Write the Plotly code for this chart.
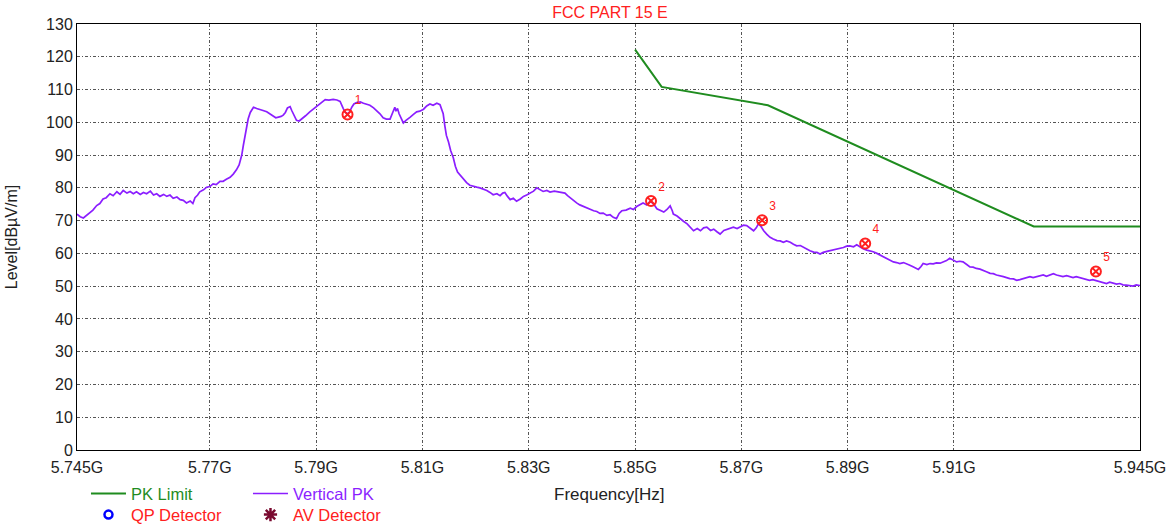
import plotly.graph_objects as go

# ---------------- data ----------------
limit_freq_ghz = [5.850, 5.855, 5.875, 5.925, 5.945]
limit_level = [122.2, 110.8, 105.2, 68.2, 68.2]

trace_freq_mhz = [
    5745.0, 5745.6, 5746.2, 5746.8, 5747.4, 5748.0, 5748.7, 5749.3, 5749.9, 5750.5,
    5751.2, 5751.8, 5752.5, 5753.1, 5753.7, 5754.4, 5755.0, 5755.6, 5756.2, 5756.9,
    5757.5, 5758.1, 5758.8, 5759.4, 5760.0, 5760.6, 5761.3, 5761.9, 5762.5, 5763.1,
    5763.8, 5764.4, 5765.0, 5765.6, 5766.3, 5766.8, 5767.2, 5767.7, 5768.1, 5768.8,
    5769.4, 5770.0, 5770.6, 5771.2, 5771.9, 5772.5, 5773.1, 5773.8, 5774.4, 5775.0,
    5775.5, 5776.0, 5776.3, 5776.6, 5776.9, 5777.2, 5777.6, 5778.2, 5778.8, 5779.4,
    5780.0, 5780.7, 5781.3, 5781.9, 5782.4, 5782.9, 5783.4, 5783.8, 5784.2, 5784.6,
    5785.1, 5785.4, 5785.6, 5786.0, 5786.3, 5786.8, 5787.3, 5788.0, 5788.8, 5789.4,
    5790.1, 5790.9, 5791.7, 5792.4, 5793.2, 5793.9, 5794.5, 5795.1, 5795.5, 5795.9,
    5796.3, 5796.7, 5797.1, 5797.6, 5798.3, 5798.9, 5799.5, 5800.1, 5800.8, 5801.4,
    5802.0, 5802.6, 5803.2, 5803.9, 5804.2, 5804.5, 5804.8, 5805.0, 5805.3, 5805.6,
    5806.0, 5806.4, 5806.9, 5807.3, 5807.7, 5808.3, 5808.9, 5809.5, 5810.2, 5810.8,
    5811.4, 5812.0, 5812.7, 5813.3, 5813.6, 5813.9, 5814.2, 5814.5, 5814.9, 5815.3,
    5815.8, 5816.2, 5816.6, 5817.1, 5817.7, 5818.3, 5818.9, 5819.6, 5820.2, 5820.8,
    5821.5, 5822.1, 5822.7, 5823.3, 5824.0, 5824.6, 5825.1, 5825.5, 5826.0, 5826.5,
    5827.1, 5827.7, 5828.4, 5829.0, 5829.6, 5830.3, 5830.9, 5831.5, 5832.1, 5832.7,
    5833.4, 5834.0, 5834.8, 5835.6, 5836.2, 5836.8, 5837.3, 5837.8, 5838.4, 5839.0,
    5839.6, 5840.3, 5840.9, 5841.5, 5842.2, 5842.8, 5843.4, 5844.0, 5844.7, 5845.3,
    5845.9, 5846.5, 5847.0, 5847.5, 5848.3, 5849.1, 5849.7, 5850.3, 5850.9, 5851.5,
    5852.2, 5852.8, 5853.1, 5853.6, 5854.1, 5854.7, 5855.4, 5856.0, 5856.6, 5857.0,
    5857.2, 5857.9, 5858.5, 5859.1, 5859.8, 5860.4, 5861.0, 5861.7, 5862.3, 5862.9,
    5863.5, 5864.2, 5864.8, 5865.4, 5866.0, 5866.7, 5867.3, 5867.9, 5868.5, 5869.2,
    5869.8, 5870.4, 5871.0, 5871.7, 5872.3, 5872.8, 5873.2, 5873.7, 5874.2, 5874.8,
    5875.4, 5876.0, 5876.7, 5877.3, 5877.9, 5878.5, 5879.2, 5879.8, 5880.4, 5881.1,
    5881.7, 5882.3, 5882.9, 5883.6, 5884.2, 5884.8, 5885.4, 5886.1, 5886.7, 5887.3,
    5887.9, 5888.6, 5889.2, 5889.8, 5890.4, 5891.1, 5891.7, 5892.3, 5892.9, 5893.6,
    5894.2, 5894.8, 5895.5, 5896.1, 5896.7, 5897.3, 5898.0, 5898.6, 5899.2, 5899.8,
    5900.5, 5901.1, 5901.7, 5902.3, 5902.8, 5903.3, 5903.8, 5904.2, 5904.9, 5905.5,
    5906.1, 5906.7, 5907.4, 5908.0, 5908.6, 5909.2, 5909.9, 5910.5, 5911.1, 5911.7,
    5912.4, 5913.0, 5913.6, 5914.2, 5914.9, 5915.5, 5916.1, 5916.8, 5917.4, 5918.0,
    5918.7, 5919.3, 5919.9, 5920.5, 5921.2, 5921.8, 5922.4, 5923.0, 5923.7, 5924.3,
    5924.9, 5925.5, 5926.2, 5926.8, 5927.4, 5928.0, 5928.7, 5929.3, 5929.9, 5930.5,
    5931.2, 5931.8, 5932.4, 5933.0, 5933.7, 5934.3, 5934.9, 5935.5, 5936.1, 5936.5,
    5937.0, 5937.4, 5938.1, 5938.7, 5939.3, 5939.9, 5940.6, 5941.2, 5941.8, 5942.4,
    5943.1, 5943.7, 5944.3, 5945.0,
]
trace_level = [
    72.0, 71.2, 70.8, 71.6, 72.6, 73.2, 74.6, 75.2, 76.6, 77.0,
    78.2, 77.6, 78.8, 78.0, 79.2, 78.4, 78.9, 78.2, 78.8, 78.0,
    78.6, 78.2, 79.0, 77.8, 78.2, 77.4, 78.0, 77.4, 77.8, 76.8,
    77.2, 76.4, 76.2, 75.4, 76.0, 75.2, 77.0, 77.8, 78.8, 79.4,
    80.2, 80.4, 81.2, 81.0, 82.0, 82.0, 82.6, 83.2, 84.2, 85.5,
    87.0, 90.0, 93.0, 96.0, 98.8, 101.0, 103.0, 104.6, 104.2, 103.8,
    103.6, 103.2, 102.6, 102.0, 101.4, 101.6, 101.8, 102.2, 103.0, 104.4,
    104.8, 103.6, 103.0, 101.4, 100.6, 100.4, 101.0, 102.0, 103.2, 104.0,
    105.0, 106.0, 106.9, 106.8, 107.0, 106.8, 106.4, 104.2, 103.0, 102.6,
    103.2, 104.6, 105.6, 106.0, 106.2, 105.8, 105.6, 105.2, 104.4, 103.6,
    102.6, 101.4, 101.0, 101.0, 102.4, 103.8, 104.6, 103.4, 104.2, 102.6,
    101.0, 99.8, 100.6, 101.0, 101.6, 102.4, 103.2, 103.4, 104.0, 105.0,
    105.6, 105.2, 105.8, 105.4, 104.0, 102.6, 99.0, 96.0, 94.0, 91.4,
    89.2, 86.5, 84.8, 83.8, 82.6, 81.6, 80.8, 80.6, 80.2, 80.0,
    79.6, 79.2, 78.6, 77.9, 78.2, 77.6, 78.4, 78.6, 77.4, 76.4,
    76.8, 75.9, 76.6, 77.4, 77.8, 78.4, 79.0, 80.0, 79.4, 78.9,
    79.2, 78.7, 79.0, 78.8, 78.6, 78.4, 77.6, 76.9, 76.2, 75.4,
    74.8, 74.3, 73.8, 73.3, 73.0, 72.8, 72.2, 72.3, 71.6, 71.8,
    71.0, 70.6, 72.2, 73.0, 73.2, 73.8, 73.4, 74.3, 74.8, 75.4,
    74.8, 75.8, 75.6, 74.8, 73.6, 73.2, 72.6, 73.4, 74.5, 73.0,
    72.0, 71.4, 70.5, 69.8, 69.0, 67.8, 66.9, 67.6, 66.9, 67.8,
    68.0, 67.0, 67.4, 66.6, 65.9, 67.0, 67.4, 67.8, 68.0, 67.6,
    68.0, 68.6, 68.5, 67.6, 66.9, 67.8, 69.0, 68.2, 66.9, 65.8,
    64.9, 64.4, 63.9, 63.8, 63.4, 63.8, 63.4, 62.8, 62.3, 62.4,
    61.8, 61.4, 60.8, 60.4, 60.3, 59.8, 60.3, 60.6, 60.8, 61.2,
    61.3, 61.6, 61.8, 62.2, 62.3, 62.0, 62.6, 62.0, 61.4, 61.0,
    60.8, 60.5, 60.0, 59.5, 59.0, 58.5, 58.0, 57.4, 57.2, 56.9,
    57.2, 56.9, 56.4, 55.9, 55.6, 55.1, 56.0, 56.9, 56.6, 56.9,
    56.8, 57.1, 57.0, 57.4, 57.8, 58.5, 57.8, 57.4, 57.6, 57.4,
    56.6, 55.9, 55.8, 55.4, 55.2, 54.9, 54.4, 53.9, 53.8, 53.4,
    53.2, 52.9, 52.6, 52.3, 52.2, 51.8, 52.0, 52.3, 52.6, 52.9,
    52.6, 52.9, 53.2, 53.4, 53.0, 53.4, 53.8, 53.4, 53.2, 52.9,
    53.2, 52.9, 52.6, 52.9, 52.6, 52.3, 52.0, 51.8, 52.0, 51.8,
    51.6, 51.3, 51.0, 50.8, 51.2, 51.0, 50.6, 50.8, 50.4, 50.3,
    50.2, 50.0, 50.4, 50.2,
]

marker_freq_ghz = [5.7959, 5.8530, 5.8739, 5.8933, 5.9367]
marker_level = [102.4, 76.0, 70.1, 63.0, 54.5]
marker_labels = ["1", "2", "3", "4", "5"]

x_tick_vals = [5.745, 5.77, 5.79, 5.81, 5.83, 5.85, 5.87, 5.89, 5.91, 5.945]
x_tick_text = ["5.745G", "5.77G", "5.79G", "5.81G", "5.83G", "5.85G", "5.87G", "5.89G", "5.91G", "5.945G"]

trace_freq_ghz = [f / 1000.0 for f in trace_freq_mhz]

FONT = "Liberation Sans, Arial, sans-serif"
GREEN = "#1f8c1f"
PURPLE = "#8b1eff"
RED = "#ff2020"

fig = go.Figure()

fig.add_trace(go.Scatter(
    x=limit_freq_ghz, y=limit_level, mode="lines",
    line=dict(color=GREEN, width=2),
    name="<span style='color:%s'>PK Limit</span>" % GREEN,
    legend="legend",
))
fig.add_trace(go.Scatter(
    x=trace_freq_ghz, y=trace_level, mode="lines",
    line=dict(color=PURPLE, width=1.7),
    name="<span style='color:%s'>Vertical PK</span>" % PURPLE,
    legend="legend",
))
fig.add_trace(go.Scatter(
    x=marker_freq_ghz, y=marker_level, mode="markers+text",
    marker=dict(symbol="circle-x-open", size=10, color=RED, line=dict(width=2, color=RED)),
    text=marker_labels, textposition="top right",
    textfont=dict(color=RED, size=12, family=FONT),
    showlegend=False,
))
fig.add_trace(go.Scatter(
    x=[None], y=[None], mode="markers",
    marker=dict(symbol="circle-open", size=8, color="#0000ff", line=dict(width=2.5, color="#0000ff")),
    name="<span style='color:%s'>QP Detector</span>" % RED,
    legend="legend2",
))
fig.add_trace(go.Scatter(
    x=[None], y=[None], mode="markers",
    marker=dict(symbol="asterisk-open", size=11, color="#7a0a30", line=dict(width=2.5, color="#7a0a30")),
    name="<span style='color:%s'>AV Detector</span>" % RED,
    legend="legend2",
))

grid = dict(gridcolor="#555555", griddash="3px,2px,1px,2px", gridwidth=1)

fig.update_layout(
    width=1173, height=527,
    margin=dict(l=77, r=33, t=24, b=77, autoexpand=False),
    paper_bgcolor="white", plot_bgcolor="white",
    font=dict(family=FONT, size=16, color="#222222"),
    title=dict(text="FCC PART 15 E", font=dict(color=RED, size=16, family=FONT),
               x=0.52, xanchor="center", y=0.977, yanchor="middle"),
    xaxis=dict(
        range=[5.745, 5.945], tickvals=x_tick_vals, ticktext=x_tick_text,
        showline=True, linecolor="black", linewidth=1, mirror=True,
        ticks="", zeroline=False, ticklabelstandoff=3,
        tickfont=dict(size=16),
        **grid,
    ),
    yaxis=dict(
        range=[0, 130], dtick=10, tick0=0,
        showline=True, linecolor="black", linewidth=1, mirror=True,
        ticks="", zeroline=False,
        title=dict(text="Level[dBµV/m]", font=dict(size=16, color="#222222"), standoff=24),
        tickfont=dict(size=16),
        **grid,
    ),
    annotations=[dict(
        text="Frequency[Hz]", xref="paper", yref="paper", x=0.501, y=-0.1033,
        xanchor="center", yanchor="middle", showarrow=False,
        font=dict(size=17, color="#222222", family=FONT),
    )],
    legend=dict(
        orientation="h", xref="container", yref="container",
        x=0.0733, xanchor="left", y=0.063, yanchor="middle",
        entrywidth=112, font=dict(size=16.5), bgcolor="rgba(0,0,0,0)",
        itemwidth=35,
    ),
    legend2=dict(
        orientation="h", xref="container", yref="container",
        x=0.0733, xanchor="left", y=0.023, yanchor="middle",
        entrywidth=112, font=dict(size=16.5), bgcolor="rgba(0,0,0,0)",
        itemwidth=35,
    ),
    showlegend=True,
)

fig.write_html("out.html", config={"displayModeBar": False},
               post_script="document.body.style.margin='0px';")
